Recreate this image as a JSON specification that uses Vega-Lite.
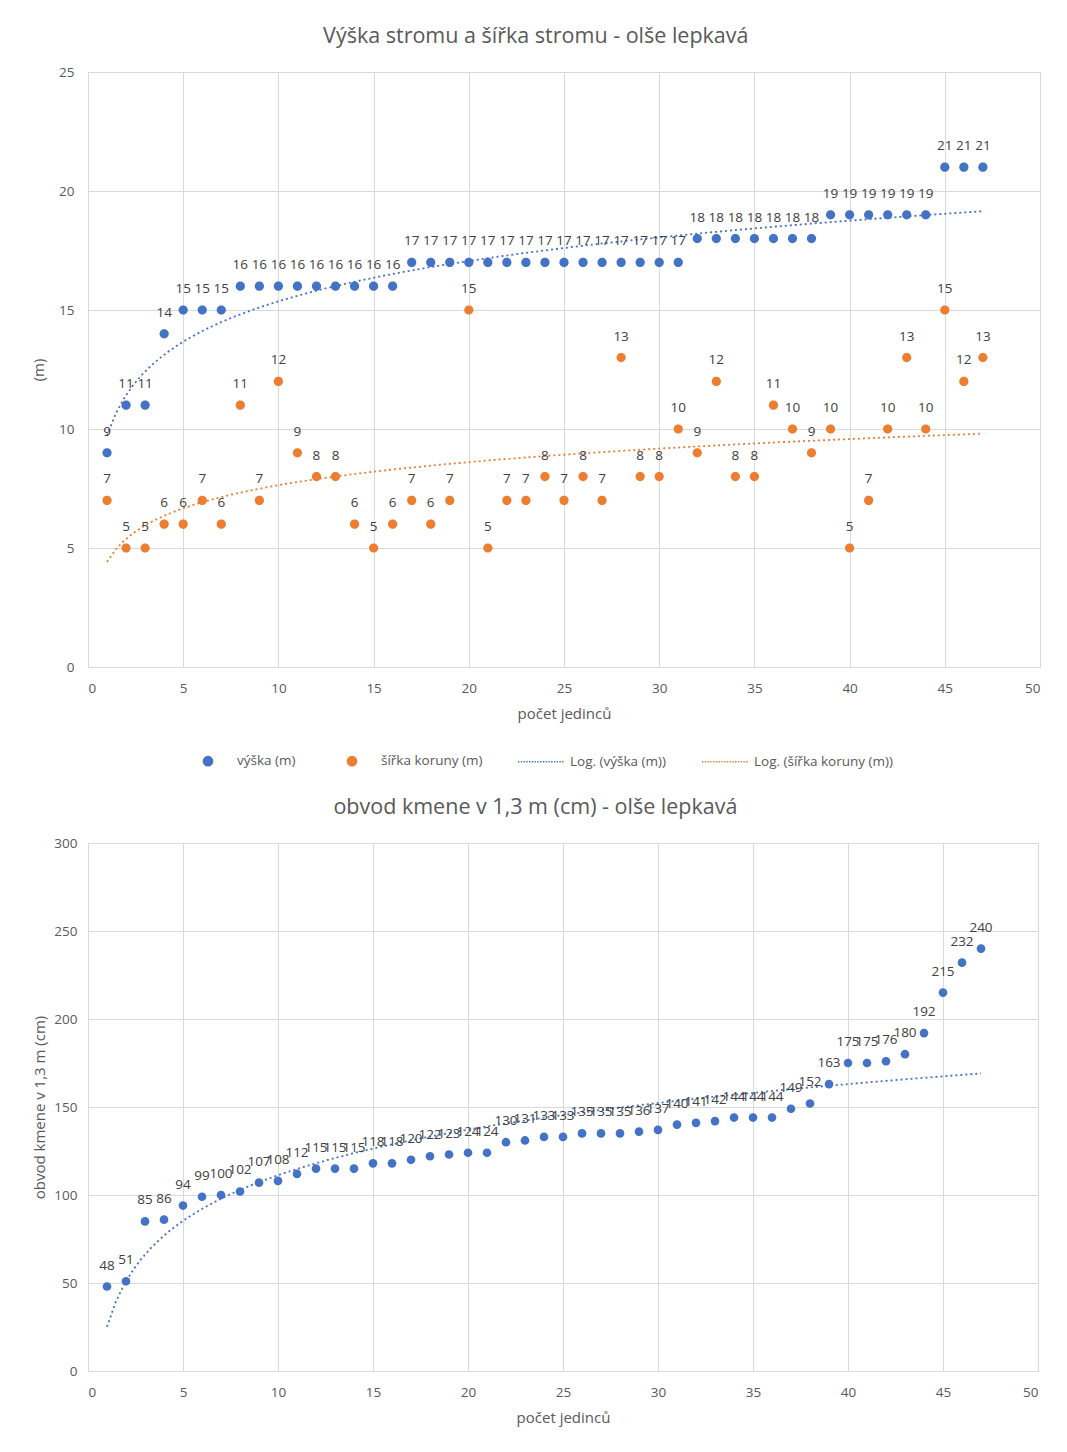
{
  "$schema": "https://vega.github.io/schema/vega-lite/v6.json",
  "background": "white",
  "padding": {"left": 31, "top": 25, "right": 15, "bottom": 5},
  "config": {
    "font": "Open Sans",
    "view": {"stroke": "#d9d9d9"},
    "axis": {"gridColor": "#d9d9d9", "domain": false, "ticks": false, "labelColor": "#595959", "labelFontSize": 13.5, "titleColor": "#595959", "titleFontSize": 15, "titleFontWeight": "normal", "labelPadding": 8},
    "title": {"fontSize": 21.5, "fontWeight": "normal", "color": "#595959", "offset": 18, "frame": "bounds", "anchor": "middle"}
  },
  "resolve": {"scale": {"color": "independent", "shape": "independent"}, "legend": {"color": "independent", "shape": "independent"}},
  "spacing": 26,
  "vconcat": [
    {
      "title": "Výška stromu a šířka stromu - olše lepkavá",
      "width": 952,
      "height": 595,
      "data": {"values": [
        {"n":1,"s":"výška (m)","v":9},{"n":2,"s":"výška (m)","v":11},{"n":3,"s":"výška (m)","v":11},{"n":4,"s":"výška (m)","v":14},
        {"n":5,"s":"výška (m)","v":15},{"n":6,"s":"výška (m)","v":15},{"n":7,"s":"výška (m)","v":15},{"n":8,"s":"výška (m)","v":16},
        {"n":9,"s":"výška (m)","v":16},{"n":10,"s":"výška (m)","v":16},{"n":11,"s":"výška (m)","v":16},{"n":12,"s":"výška (m)","v":16},
        {"n":13,"s":"výška (m)","v":16},{"n":14,"s":"výška (m)","v":16},{"n":15,"s":"výška (m)","v":16},{"n":16,"s":"výška (m)","v":16},
        {"n":17,"s":"výška (m)","v":17},{"n":18,"s":"výška (m)","v":17},{"n":19,"s":"výška (m)","v":17},{"n":20,"s":"výška (m)","v":17},
        {"n":21,"s":"výška (m)","v":17},{"n":22,"s":"výška (m)","v":17},{"n":23,"s":"výška (m)","v":17},{"n":24,"s":"výška (m)","v":17},
        {"n":25,"s":"výška (m)","v":17},{"n":26,"s":"výška (m)","v":17},{"n":27,"s":"výška (m)","v":17},{"n":28,"s":"výška (m)","v":17},
        {"n":29,"s":"výška (m)","v":17},{"n":30,"s":"výška (m)","v":17},{"n":31,"s":"výška (m)","v":17},{"n":32,"s":"výška (m)","v":18},
        {"n":33,"s":"výška (m)","v":18},{"n":34,"s":"výška (m)","v":18},{"n":35,"s":"výška (m)","v":18},{"n":36,"s":"výška (m)","v":18},
        {"n":37,"s":"výška (m)","v":18},{"n":38,"s":"výška (m)","v":18},{"n":39,"s":"výška (m)","v":19},{"n":40,"s":"výška (m)","v":19},
        {"n":41,"s":"výška (m)","v":19},{"n":42,"s":"výška (m)","v":19},{"n":43,"s":"výška (m)","v":19},{"n":44,"s":"výška (m)","v":19},
        {"n":45,"s":"výška (m)","v":21},{"n":46,"s":"výška (m)","v":21},{"n":47,"s":"výška (m)","v":21},
        {"n":1,"s":"šířka koruny (m)","v":7},{"n":2,"s":"šířka koruny (m)","v":5},{"n":3,"s":"šířka koruny (m)","v":5},{"n":4,"s":"šířka koruny (m)","v":6},
        {"n":5,"s":"šířka koruny (m)","v":6},{"n":6,"s":"šířka koruny (m)","v":7},{"n":7,"s":"šířka koruny (m)","v":6},{"n":8,"s":"šířka koruny (m)","v":11},
        {"n":9,"s":"šířka koruny (m)","v":7},{"n":10,"s":"šířka koruny (m)","v":12},{"n":11,"s":"šířka koruny (m)","v":9},{"n":12,"s":"šířka koruny (m)","v":8},
        {"n":13,"s":"šířka koruny (m)","v":8},{"n":14,"s":"šířka koruny (m)","v":6},{"n":15,"s":"šířka koruny (m)","v":5},{"n":16,"s":"šířka koruny (m)","v":6},
        {"n":17,"s":"šířka koruny (m)","v":7},{"n":18,"s":"šířka koruny (m)","v":6},{"n":19,"s":"šířka koruny (m)","v":7},{"n":20,"s":"šířka koruny (m)","v":15},
        {"n":21,"s":"šířka koruny (m)","v":5},{"n":22,"s":"šířka koruny (m)","v":7},{"n":23,"s":"šířka koruny (m)","v":7},{"n":24,"s":"šířka koruny (m)","v":8},
        {"n":25,"s":"šířka koruny (m)","v":7},{"n":26,"s":"šířka koruny (m)","v":8},{"n":27,"s":"šířka koruny (m)","v":7},{"n":28,"s":"šířka koruny (m)","v":13},
        {"n":29,"s":"šířka koruny (m)","v":8},{"n":30,"s":"šířka koruny (m)","v":8},{"n":31,"s":"šířka koruny (m)","v":10},{"n":32,"s":"šířka koruny (m)","v":9},
        {"n":33,"s":"šířka koruny (m)","v":12},{"n":34,"s":"šířka koruny (m)","v":8},{"n":35,"s":"šířka koruny (m)","v":8},{"n":36,"s":"šířka koruny (m)","v":11},
        {"n":37,"s":"šířka koruny (m)","v":10},{"n":38,"s":"šířka koruny (m)","v":9},{"n":39,"s":"šířka koruny (m)","v":10},{"n":40,"s":"šířka koruny (m)","v":5},
        {"n":41,"s":"šířka koruny (m)","v":7},{"n":42,"s":"šířka koruny (m)","v":10},{"n":43,"s":"šířka koruny (m)","v":13},{"n":44,"s":"šířka koruny (m)","v":10},
        {"n":45,"s":"šířka koruny (m)","v":15},{"n":46,"s":"šířka koruny (m)","v":12},{"n":47,"s":"šířka koruny (m)","v":13}
      ]},
      "encoding": {
        "x": {"field": "n", "type": "quantitative", "scale": {"domain": [0, 50], "nice": false}, "axis": {"values": [0,5,10,15,20,25,30,35,40,45,50], "title": "počet jedinců", "labelPadding": 14, "titlePadding": 12}},
        "y": {"field": "v", "type": "quantitative", "scale": {"domain": [0, 25], "nice": false}, "axis": {"values": [0,5,10,15,20,25], "title": "(m)", "titlePadding": 12, "labelPadding": 14}}
      },
      "layer": [
        {
          "transform": [{"regression": "v", "on": "n", "groupby": ["s"], "method": "log", "extent": [1, 47]}],
          "mark": {"type": "line", "strokeDash": [2, 3], "strokeWidth": 1.8},
          "encoding": {"color": {"field": "s", "type": "nominal"}}
        },
        {
          "mark": {"type": "point", "filled": true, "opacity": 1, "size": 2116},
          "encoding": {
            "color": {
              "field": "s", "type": "nominal",
              "scale": {"domain": ["výška (m)", "šířka koruny (m)", "Log. (výška (m))", "Log. (šířka koruny (m))"], "range": ["#4472C4", "#ED7D31", "#4472C4", "#ED7D31"]},
              "legend": {"orient": "none", "legendX": 96, "legendY": 665, "direction": "horizontal", "title": null, "symbolSize": 2116, "labelFontSize": 13.5, "labelColor": "#595959", "labelOffset": 5, "columnPadding": 32,
                "encode": {"symbols": {"update": {"stroke": {"signal": "indexof(datum.value, 'šířka') >= 0 ? '#ED7D31' : '#4472C4'"}, "strokeWidth": {"value": 1.3}}}}}
            },
            "shape": {
              "field": "s", "type": "nominal",
              "scale": {"domain": ["výška (m)", "šířka koruny (m)", "Log. (výška (m))", "Log. (šířka koruny (m))"], "range": [
                "M-0.2,0A0.2,0.2,0,1,1,0.2,0A0.2,0.2,0,1,1,-0.2,0Z",
                "M-0.2,0A0.2,0.2,0,1,1,0.2,0A0.2,0.2,0,1,1,-0.2,0Z",
                "M-1,0H-0.94M-0.88,0H-0.82M-0.76,0H-0.7M-0.64,0H-0.58M-0.52,0H-0.46M-0.4,0H-0.34M-0.28,0H-0.22M-0.16,0H-0.1M-0.04,0H0.02M0.08,0H0.14M0.2,0H0.26M0.32,0H0.38M0.44,0H0.5M0.56,0H0.62M0.68,0H0.74M0.8,0H0.86M0.92,0H0.98",
                "M-1,0H-0.94M-0.88,0H-0.82M-0.76,0H-0.7M-0.64,0H-0.58M-0.52,0H-0.46M-0.4,0H-0.34M-0.28,0H-0.22M-0.16,0H-0.1M-0.04,0H0.02M0.08,0H0.14M0.2,0H0.26M0.32,0H0.38M0.44,0H0.5M0.56,0H0.62M0.68,0H0.74M0.8,0H0.86M0.92,0H0.98"
              ]},
              "legend": {"orient": "none", "legendX": 96, "legendY": 665, "direction": "horizontal", "title": null, "symbolSize": 2116, "labelFontSize": 13.5, "labelColor": "#595959", "labelOffset": 5, "columnPadding": 32,
                "encode": {"symbols": {"update": {"stroke": {"signal": "indexof(datum.value, 'šířka') >= 0 ? '#ED7D31' : '#4472C4'"}, "strokeWidth": {"value": 1.3}}}}}
            }
          }
        },
        {
          "mark": {"type": "text", "dy": -21, "fontSize": 13.5, "color": "#404040"},
          "encoding": {"text": {"field": "v", "type": "quantitative"}}
        }
      ]
    },
    {
      "title": "obvod kmene v 1,3 m (cm) - olše lepkavá",
      "width": 950,
      "height": 528,
      "data": {"values": [
        {"n":1,"o":48},{"n":2,"o":51},{"n":3,"o":85},{"n":4,"o":86},{"n":5,"o":94},{"n":6,"o":99},{"n":7,"o":100},{"n":8,"o":102},
        {"n":9,"o":107},{"n":10,"o":108},{"n":11,"o":112},{"n":12,"o":115},{"n":13,"o":115},{"n":14,"o":115},{"n":15,"o":118},{"n":16,"o":118},
        {"n":17,"o":120},{"n":18,"o":122},{"n":19,"o":123},{"n":20,"o":124},{"n":21,"o":124},{"n":22,"o":130},{"n":23,"o":131},{"n":24,"o":133},
        {"n":25,"o":133},{"n":26,"o":135},{"n":27,"o":135},{"n":28,"o":135},{"n":29,"o":136},{"n":30,"o":137},{"n":31,"o":140},{"n":32,"o":141},
        {"n":33,"o":142},{"n":34,"o":144},{"n":35,"o":144},{"n":36,"o":144},{"n":37,"o":149},{"n":38,"o":152},{"n":39,"o":163},{"n":40,"o":175},
        {"n":41,"o":175},{"n":42,"o":176},{"n":43,"o":180},{"n":44,"o":192},{"n":45,"o":215},{"n":46,"o":232},{"n":47,"o":240}
      ]},
      "encoding": {
        "x": {"field": "n", "type": "quantitative", "scale": {"domain": [0, 50], "nice": false}, "axis": {"values": [0,5,10,15,20,25,30,35,40,45,50], "title": "počet jedinců", "labelPadding": 14, "titlePadding": 12}},
        "y": {"field": "o", "type": "quantitative", "scale": {"domain": [0, 300], "nice": false}, "axis": {"values": [0,50,100,150,200,250,300], "title": "obvod kmene v 1,3 m (cm)", "titlePadding": 6, "labelPadding": 11}}
      },
      "layer": [
        {
          "transform": [{"regression": "o", "on": "n", "method": "log", "extent": [1, 47]}],
          "mark": {"type": "line", "strokeDash": [2, 3], "strokeWidth": 1.8, "color": "#4472C4"},
          "encoding": {}
        },
        {
          "mark": {"type": "point", "filled": true, "opacity": 1, "size": 75, "color": "#4472C4"}
        },
        {
          "mark": {"type": "text", "dy": -21, "fontSize": 13.5, "color": "#404040"},
          "encoding": {"text": {"field": "o", "type": "quantitative"}}
        }
      ]
    }
  ]
}
